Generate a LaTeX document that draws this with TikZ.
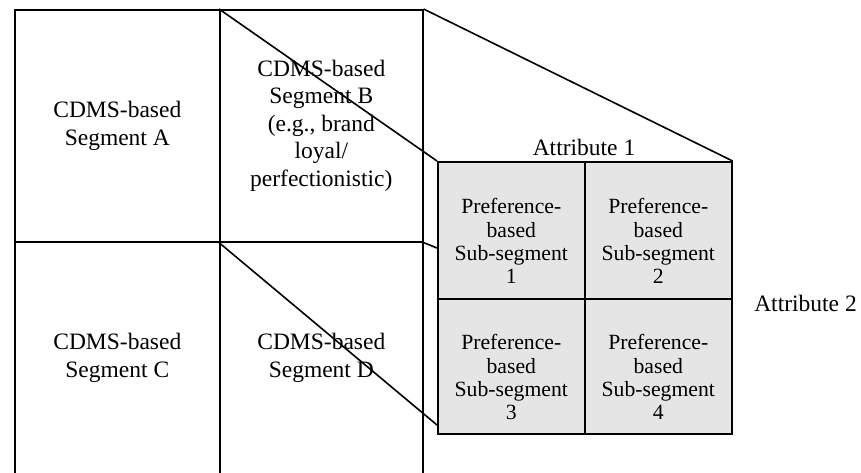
\documentclass[tikz,border=0pt]{standalone}
\usepackage{fontspec}
\setmainfont{Liberation Serif}
\begin{document}
\begin{tikzpicture}[x=1pt,y=-1pt,line width=1.6pt,
  bigcell/.style={draw,rectangle,anchor=north west,inner sep=0pt,align=center,
    minimum height=232pt,font=\fontsize{23.5}{27.5}\selectfont},
  subcell/.style={draw,rectangle,anchor=north west,inner sep=0pt,fill=gray!20,
    minimum width=147pt},
  subtext/.style={align=center,inner sep=0pt,font=\fontsize{21.7}{23.3}\selectfont},
  attr/.style={inner sep=0pt,font=\fontsize{23.5}{27.5}\selectfont}]
\useasboundingbox (0,0) rectangle (861,472);
% big grid
\node[bigcell,minimum width=205pt] (A) at (14,9) {CDMS-based\\Segment A};
\node[bigcell,minimum width=203pt] (B) at (219,9) {CDMS-based\\Segment B\\(e.g., brand\\loyal/\\perfectionistic)};
\node[bigcell,minimum width=205pt] (C) at (14,241) {CDMS-based\\Segment C};
\node[bigcell,minimum width=203pt] (D) at (219,241) {CDMS-based\\Segment D};
% sub-segment box
\node[subcell,minimum height=137pt] (s1) at (437,161) {};
\node[subcell,minimum height=137pt] (s2) at (584,161) {};
\node[subcell,minimum height=135pt] (s3) at (437,298) {};
\node[subcell,minimum height=135pt] (s4) at (584,298) {};
\node[subtext,yshift=-11pt] (t1) at (s1.center) {Preference-\\based\\Sub-segment\\1};
\node[subtext,yshift=-11pt] (t2) at (s2.center) {Preference-\\based\\Sub-segment\\2};
\node[subtext,yshift=-11pt] (t3) at (s3.center) {Preference-\\based\\Sub-segment\\3};
\node[subtext,yshift=-11pt] (t4) at (s4.center) {Preference-\\based\\Sub-segment\\4};
% attribute labels
\node[attr] (a1) at (584,147) {Attribute 1};
\node[attr] (a2) at (805.5,303) {Attribute 2};
% connectors
\coordinate (e3) at (437,425);
\coordinate (e4) at (437,248);
\draw (B.north west) -- (s1.north west);
\draw (B.north east) -- (s2.north east);
\draw (B.south west) -- (e3);
\draw (B.south east) -- (e4);
\end{tikzpicture}
\end{document}
